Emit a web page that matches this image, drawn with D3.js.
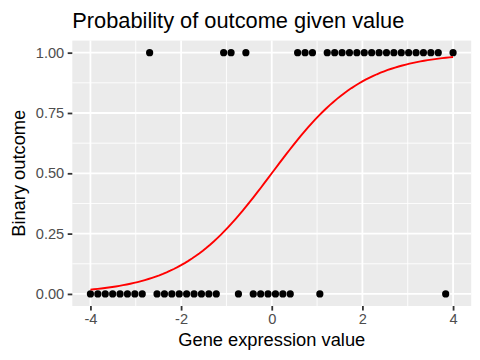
<!DOCTYPE html>
<html>
<head>
<meta charset="utf-8">
<script src="https://cdn.jsdelivr.net/npm/d3@7"></script>
<style>
  html, body { margin: 0; padding: 0; background: #ffffff; }
  svg { display: block; font-family: "Liberation Sans", Arial, Helvetica, sans-serif; }
</style>
</head>
<body>
<svg id="chart" width="480" height="360"></svg>
<script>
// ---- data ----
// 50 evenly spaced gene expression values from -4 to 4
const geneValues = [
  -4.000, -3.837, -3.673, -3.510, -3.347, -3.184, -3.020, -2.857, -2.694, -2.531,
  -2.367, -2.204, -2.041, -1.878, -1.714, -1.551, -1.388, -1.224, -1.061, -0.898,
  -0.735, -0.571, -0.408, -0.245, -0.082,  0.082,  0.245,  0.408,  0.571,  0.735,
   0.898,  1.061,  1.224,  1.388,  1.551,  1.714,  1.878,  2.041,  2.204,  2.367,
   2.531,  2.694,  2.857,  3.020,  3.184,  3.347,  3.510,  3.673,  3.837,  4.000
];
const binaryOutcome = [
  0, 0, 0, 0, 0, 0, 0, 0, 1, 0,
  0, 0, 0, 0, 0, 0, 0, 0, 1, 1,
  0, 1, 0, 0, 0, 0, 0, 0, 1, 1,
  1, 0, 1, 1, 1, 1, 1, 1, 1, 1,
  1, 1, 1, 1, 1, 1, 1, 1, 0, 1
];
// logistic probability curve p = 1 / (1 + exp(-(intercept + slope * x)))
const curveIntercept = 0;
const curveSlope = 1;
const xTicks = [-4, -2, 0, 2, 4];
const xTickLabels = ["-4", "-2", "0", "2", "4"];
const yTicks = [0, 0.25, 0.5, 0.75, 1];
const yTickLabels = ["0.00", "0.25", "0.50", "0.75", "1.00"];
const xMinor = [-3, -1, 1, 3];
const yMinor = [0.125, 0.375, 0.625, 0.875];
const titleText = "Probability of outcome given value";
const xTitle = "Gene expression value";
const yTitle = "Binary outcome";

// ---- curve evaluated over the data range (like stat_function, n = 101) ----
const xExtent = d3.extent(geneValues);
const nEval = 101;
const curve = d3.range(nEval).map(i => {
  const xv = xExtent[0] + (xExtent[1] - xExtent[0]) * i / (nEval - 1);
  return { x: xv, y: 1 / (1 + Math.exp(-(curveIntercept + curveSlope * xv))) };
});

// ---- layout ----
const svg = d3.select("#chart");
const panel = { left: 72.3, right: 471.2, top: 40.6, bottom: 306 };

const xPad = (xExtent[1] - xExtent[0]) * 0.05;
const x = d3.scaleLinear().domain([xExtent[0] - xPad, xExtent[1] + xPad]).range([panel.left, panel.right]);
const y = d3.scaleLinear().domain([-0.05, 1.05]).range([panel.bottom, panel.top]);

// panel background
svg.append("rect")
  .attr("x", panel.left).attr("y", panel.top)
  .attr("width", panel.right - panel.left).attr("height", panel.bottom - panel.top)
  .attr("fill", "#EBEBEB");

const grid = svg.append("g");
// minor grid
grid.selectAll(".xminor").data(xMinor).enter().append("line")
  .attr("x1", d => x(d)).attr("x2", d => x(d))
  .attr("y1", panel.top).attr("y2", panel.bottom)
  .attr("stroke", "#ffffff").attr("stroke-width", 0.9);
grid.selectAll(".yminor").data(yMinor).enter().append("line")
  .attr("y1", d => y(d)).attr("y2", d => y(d))
  .attr("x1", panel.left).attr("x2", panel.right)
  .attr("stroke", "#ffffff").attr("stroke-width", 0.9);
// major grid
grid.selectAll(".xmajor").data(xTicks).enter().append("line")
  .attr("x1", d => x(d)).attr("x2", d => x(d))
  .attr("y1", panel.top).attr("y2", panel.bottom)
  .attr("stroke", "#ffffff").attr("stroke-width", 1.8);
grid.selectAll(".ymajor").data(yTicks).enter().append("line")
  .attr("y1", d => y(d)).attr("y2", d => y(d))
  .attr("x1", panel.left).attr("x2", panel.right)
  .attr("stroke", "#ffffff").attr("stroke-width", 1.8);

// points
svg.append("g").selectAll("circle").data(geneValues).enter().append("circle")
  .attr("cx", d => x(d))
  .attr("cy", (d, i) => y(binaryOutcome[i]))
  .attr("r", 3.6)
  .attr("fill", "#000000");

// probability curve
svg.append("path")
  .datum(curve)
  .attr("d", d3.line().x(d => x(d.x)).y(d => y(d.y)))
  .attr("fill", "none")
  .attr("stroke", "#FF0000")
  .attr("stroke-width", 1.9);

// axes
const xAxis = d3.axisBottom(x).tickValues(xTicks).tickFormat((d, i) => xTickLabels[i])
  .tickSize(4.6).tickPadding(3.5);
const yAxis = d3.axisLeft(y).tickValues(yTicks).tickFormat((d, i) => yTickLabels[i])
  .tickSize(4.6).tickPadding(3.5);

const gx = svg.append("g").attr("transform", `translate(0,${panel.bottom})`).call(xAxis);
const gy = svg.append("g").attr("transform", `translate(${panel.left},0)`).call(yAxis);
[gx, gy].forEach(g => {
  g.select(".domain").remove();
  g.selectAll(".tick line").attr("stroke", "#333333").attr("stroke-width", 1.8);
  g.selectAll(".tick text").attr("fill", "#4D4D4D").attr("font-size", "14.6px")
    .attr("font-family", "'Liberation Sans', Arial, Helvetica, sans-serif");
});

// titles
svg.append("text")
  .attr("x", panel.left).attr("y", 28)
  .attr("font-size", "21.8px").attr("fill", "#000000")
  .text(titleText);

svg.append("text")
  .attr("x", (panel.left + panel.right) / 2).attr("y", 346)
  .attr("text-anchor", "middle")
  .attr("font-size", "18.3px").attr("fill", "#000000")
  .text(xTitle);

svg.append("text")
  .attr("transform", `translate(25,${(panel.top + panel.bottom) / 2}) rotate(-90)`)
  .attr("text-anchor", "middle")
  .attr("font-size", "18.3px").attr("fill", "#000000")
  .text(yTitle);
</script>
</body>
</html>
